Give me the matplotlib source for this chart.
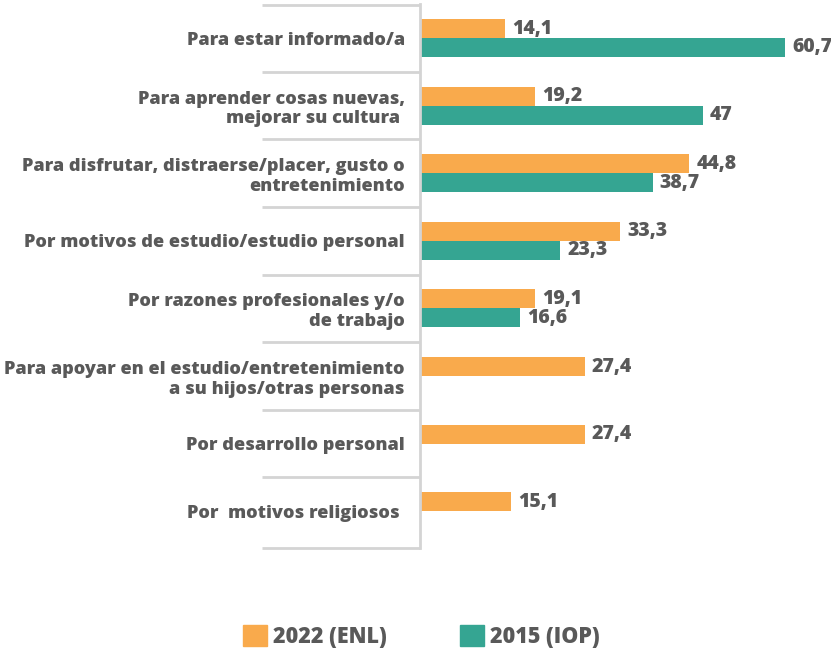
import matplotlib
matplotlib.use("Agg")
import matplotlib.pyplot as plt
import matplotlib.transforms as mtransforms
from matplotlib.patches import Patch

categories = [
    "Para estar informado/a",
    "Para aprender cosas nuevas,\nmejorar su cultura ",
    "Para disfrutar, distraerse/placer, gusto o\nentretenimiento",
    "Por motivos de estudio/estudio personal",
    "Por razones profesionales y/o\nde trabajo",
    "Para apoyar en el estudio/entretenimiento\na su hijos/otras personas",
    "Por desarrollo personal",
    "Por  motivos religiosos ",
]
v2022 = [14.1, 19.2, 44.8, 33.3, 19.1, 27.4, 27.4, 15.1]
v2015 = [60.7, 47, 38.7, 23.3, 16.6, None, None, None]
series_names = ["2022 (ENL)", "2015 (IOP)"]

ORANGE = "#F9AA4C"
TEAL = "#35A592"
GRAY = "#595959"
LINE = "#D4D4D4"
FONT = "Open Sans"
WEIGHT = 800

def fmt(v):
    s = ("%.1f" % v).replace(".", ",")
    if s.endswith(",0"):
        s = s[:-2]
    return s

W, H, DPI = 831, 649, 100
fig = plt.figure(figsize=(W / DPI, H / DPI), dpi=DPI)
left_px, right_px, top_px, bot_px = 420, 831, 4, 548
ax = fig.add_axes([left_px / W, 1 - bot_px / H, (right_px - left_px) / W, (bot_px - top_px) / H])

n = len(categories)
ys = list(range(n))
bh = 0.28
px_per_unit = (785 - 420) / 60.7
ax.set_xlim(0, (right_px - left_px) / px_per_unit)
ax.set_ylim(n - 0.456, -0.503)

off = mtransforms.ScaledTranslation(7 / DPI, 0, fig.dpi_scale_trans)
for i, (a, b) in enumerate(zip(v2022, v2015)):
    ax.barh(i - bh / 2, a, height=bh, color=ORANGE)
    ax.text(a, i - bh / 2, fmt(a), transform=ax.transData + off,
            ha="left", va="center", color=GRAY, fontsize=14, fontweight=WEIGHT, family=FONT)
    if b is not None:
        ax.barh(i + bh / 2, b, height=bh, color=TEAL)
        ax.text(b, i + bh / 2, fmt(b), transform=ax.transData + off,
                ha="left", va="center", color=GRAY, fontsize=14, fontweight=WEIGHT, family=FONT)

for s in ["top", "right", "bottom"]:
    ax.spines[s].set_visible(False)
ax.spines["left"].set_color(LINE)
ax.spines["left"].set_linewidth(2)
ax.set_xticks([])
ax.set_yticks(ys)
ax.set_yticklabels(categories, fontsize=13.1, fontweight=WEIGHT, color=GRAY, family=FONT)
ax.tick_params(axis="y", length=0, pad=11)

# category separators
trans = mtransforms.blended_transform_factory(ax.transAxes, ax.transData)
sep_x0 = (262 - left_px) / (right_px - left_px)
for k in range(n + 1):
    yv = k - 0.5 if k < n else n - 0.456
    if k == 0:
        yv = -0.49
    ax.plot([sep_x0, 0], [yv, yv], transform=trans, color=LINE, lw=2, clip_on=False, solid_capstyle="butt")

handles = [Patch(color=ORANGE), Patch(color=TEAL)]
fig.legend(handles, series_names, loc="lower center", bbox_to_anchor=(0.507, -0.03), ncol=2, frameon=False,
           prop={"family": FONT, "weight": WEIGHT, "size": 15.5}, labelcolor=GRAY,
           handlelength=1.1, handleheight=1.1, columnspacing=3.4, handletextpad=0.3)

fig.savefig("out.png", dpi=DPI)
